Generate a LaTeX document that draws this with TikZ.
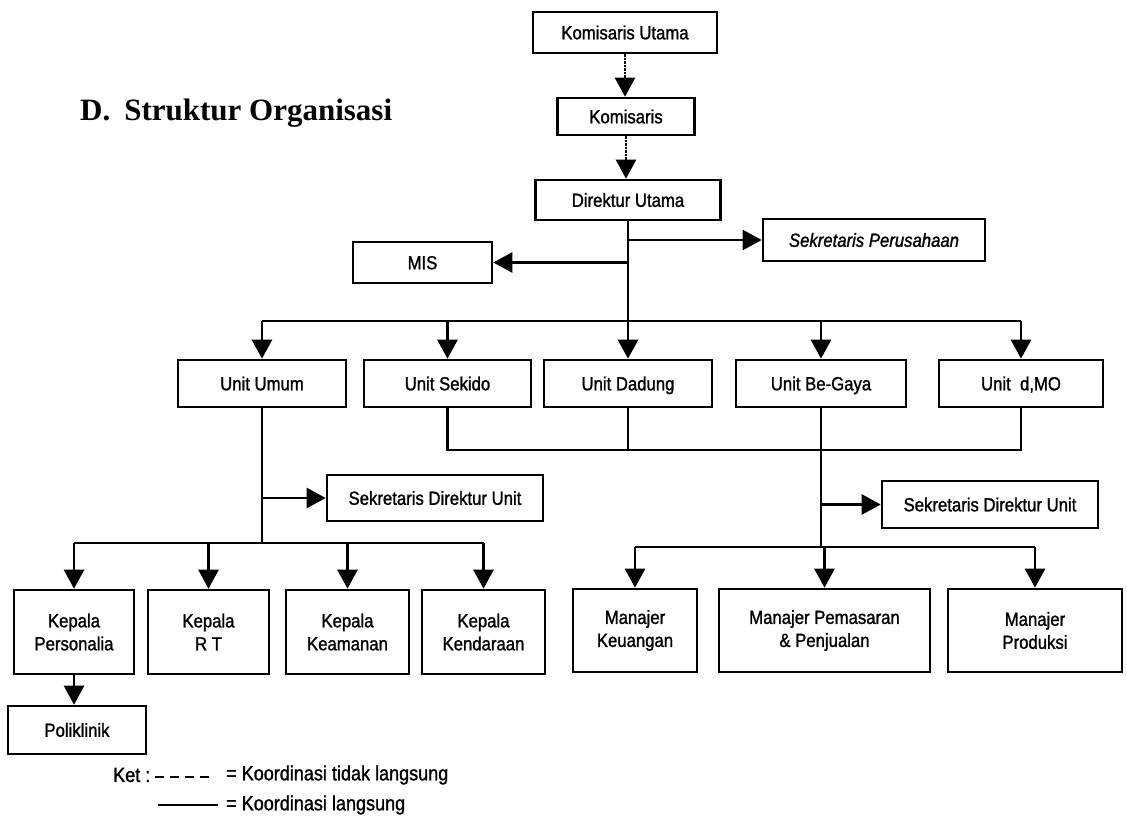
\documentclass[tikz,border=0pt]{standalone}
\usepackage{fontspec}
\setmainfont{Liberation Sans}
\newfontfamily\boxfont[FakeStretch=0.88,FakeBold=1.3]{Liberation Sans}
\newfontfamily\titlefont{Liberation Serif}
\usetikzlibrary{arrows.meta}
\begin{document}
\begin{tikzpicture}[x=1pt,y=-1pt,
  box/.style={draw,line width=2.6pt,inner sep=0pt,align=center,
    font=\boxfont\fontsize{19}{23}\selectfont},
  one/.style={text height=16pt,text depth=2.4pt},
  ln/.style={line width=2.5pt},
  arr/.style={line width=2.5pt,-{Triangle[width=20pt,length=19pt]}},
  darr/.style={line width=2.5pt,densely dotted,-{Triangle[width=20pt,length=19pt]}},
  lgd/.style={font=\boxfont\fontsize{20.5}{23}\selectfont,anchor=west,inner sep=0pt}]
\useasboundingbox (0,0) rectangle (1127,818);

% title
\node[anchor=west,inner sep=0pt,font=\titlefont\bfseries\fontsize{31}{36}\selectfont] (title) at (80,113) {D.\hspace{14pt}Struktur Organisasi};

% top chain
\node[box,one,minimum width=184,minimum height=41] (ku) at (625,32.5) {Komisaris Utama};
\node[box,one,minimum width=137,minimum height=37] (kom) at (626,116.5) {Komisaris};
\node[box,one,minimum width=185,minimum height=40] (du) at (628,200) {Direktur Utama};
\node[box,one,minimum width=222,minimum height=42,font=\boxfont\itshape\fontsize{19}{23}\selectfont] (sp) at (874,240) {Sekretaris Perusahaan};
\node[box,one,minimum width=139,minimum height=41] (mis) at (422.5,262.5) {MIS};

% units
\node[box,one,minimum width=168,minimum height=47] (umum) at (262,383.5) {Unit Umum};
\node[box,one,minimum width=167,minimum height=47] (sekido) at (447.5,383.5) {Unit Sekido};
\node[box,one,minimum width=168,minimum height=47] (dadung) at (628,383.5) {Unit Dadung};
\node[box,one,minimum width=170,minimum height=47] (begaya) at (821,383.5) {Unit Be-Gaya};
\node[box,one,minimum width=164,minimum height=47] (dmo) at (1021,383.5) {Unit\ \ d,MO};

% secretaries of units
\node[box,one,minimum width=216,minimum height=46] (sdu1) at (435,498) {Sekretaris Direktur Unit};
\node[box,one,minimum width=216,minimum height=47] (sdu2) at (990,504.5) {Sekretaris Direktur Unit};

% kepala row
\node[box,minimum width=120,minimum height=84] (kp) at (74,632) {Kepala\\Personalia};
\node[box,minimum width=121,minimum height=84] (krt) at (208.5,632) {Kepala\\R T};
\node[box,minimum width=123,minimum height=84] (kkm) at (347.5,632) {Kepala\\Keamanan};
\node[box,minimum width=123,minimum height=84] (kkd) at (483.5,632) {Kepala\\Kendaraan};

% manajer row
\node[box,minimum width=124,minimum height=83] (mk) at (635,630.5) {Manajer\\Keuangan};
\node[box,minimum width=211,minimum height=83] (mp) at (824.5,630.5) {Manajer Pemasaran\\\& Penjualan};
\node[box,minimum width=174,minimum height=83] (mpr) at (1035,630.5) {Manajer\\Produksi};

% poliklinik
\node[box,one,minimum width=138,minimum height=48] (pol) at (77,730) {Poliklinik};

% bus coordinates
\coordinate (b0) at (0,321);
\coordinate (b1) at (0,450);
\coordinate (b2) at (0,547);
\coordinate (b3) at (0,543);

% connectors top
\draw[darr] (ku.south) -- (ku.south |- kom.north);
\draw[darr] (kom.south) -- (kom.south |- du.north);
\draw[ln] (du.south) -- (du.south |- b0);
\draw[arr] (du.south |- sp.west) -- (sp.west);
\draw[arr] (du.south |- mis.east) -- (mis.east);
\draw[ln] (umum.north |- b0) -- (dmo.north |- b0);
\foreach \n in {umum,sekido,dadung,begaya,dmo}
  \draw[arr] (\n.north |- b0) -- (\n.north);

% connections between units
\draw[ln] (sekido.south) -- (sekido.south |- b1) -- (dmo.south |- b1) -- (dmo.south);
\draw[ln] (dadung.south) -- (dadung.south |- b1);
\draw[ln] (begaya.south) -- (begaya.south |- b2);

% left branch
\draw[ln] (umum.south) -- (umum.south |- b3);
\draw[arr] (umum.south |- sdu1.west) -- (sdu1.west);
\draw[ln] (kp.north |- b3) -- (kkd.north |- b3);
\foreach \n in {kp,krt,kkm,kkd}
  \draw[arr] (\n.north |- b3) -- (\n.north);
\draw[arr] (kp.south) -- (kp.south |- pol.north);

% right branch
\draw[arr] (begaya.south |- sdu2.west) -- (sdu2.west);
\draw[ln] (mk.north |- b2) -- (mpr.north |- b2);
\foreach \n in {mk,mp,mpr}
  \draw[arr] (\n.north |- b2) -- (\n.north);

% legend
\node[lgd] (ket) at (113,775) {Ket :};
\coordinate (l1a) at (155,777);
\coordinate (l1b) at (212,777);
\draw[line width=1.8pt,dash pattern=on 9pt off 6pt] (l1a) -- (l1b);
\node[lgd] (leg1) at (226,775) {= Koordinasi tidak langsung};
\coordinate (l2a) at (158,805);
\coordinate (l2b) at (218,805);
\draw[line width=1.8pt] (l2a) -- (l2b);
\node[lgd] (leg2) at (226,805) {= Koordinasi langsung};
\end{tikzpicture}
\end{document}
